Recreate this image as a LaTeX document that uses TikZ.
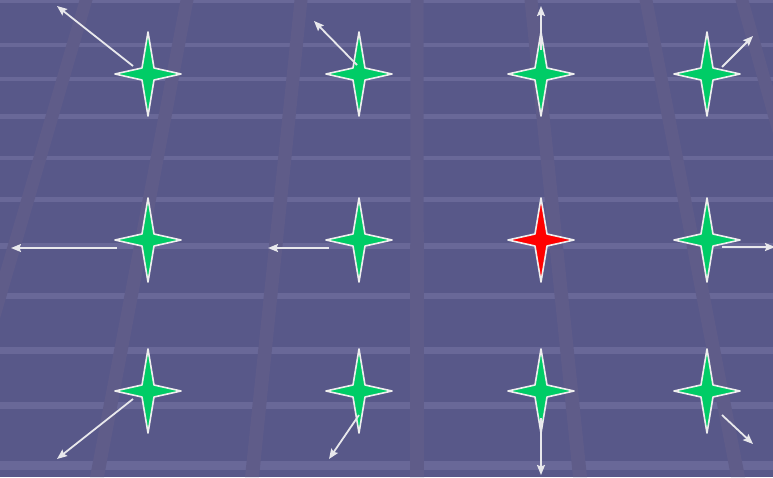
\documentclass[tikz,border=0pt]{standalone}
\usetikzlibrary{arrows.meta}
\definecolor{bgcol}{RGB}{88,88,137}
\definecolor{hlcol}{RGB}{105,104,152}
\definecolor{stcol}{RGB}{95,92,137}
\definecolor{stargreen}{RGB}{0,204,102}
\definecolor{starred}{RGB}{255,0,0}
\definecolor{edgecol}{RGB}{238,238,238}
\definecolor{arrcol}{RGB}{232,232,236}
\tikzset{
  sparkle/.pic={\filldraw[line width=1.6pt, draw=edgecol, fill=#1, line join=round]
     (0,42) -- (6,6) -- (33,0) -- (6,-6) -- (0,-42) -- (-6,-6) -- (-33,0) -- (-6,6) -- cycle;},
  arr/.style={draw=arrcol, line width=1.8pt, -{Stealth[length=10pt,width=8pt,inset=1.5pt]}},
}
\begin{document}
\begin{tikzpicture}[x=1pt,y=-1pt]
\useasboundingbox (0,0) rectangle (773,477);
\fill[bgcol] (0,0) rectangle (773,477);
\begin{scope}
\clip (0,0) rectangle (773,477);
% horizontal floor lines
\foreach \yy/\ww in {1/3, 44.5/4, 79/4, 116.5/4.5, 158/4.5, 199/5, 245.5/6, 295.5/6, 350.5/7, 405.5/7, 465/9}
  \draw[hlcol, line width=\ww pt] (0,\yy) -- (773,\yy);
% slanted stripes (top x / bottom x)
\foreach \aa/\bb in {86/-53, 187/97, 301/252, 417/417, 531/580, 646/738, 742/876}
  \fill[stcol] (\aa-6.5,0) -- (\aa+6.5,0) -- (\bb+7,477) -- (\bb-7,477) -- cycle;
\end{scope}
% stars
\coordinate (s11) at (148,74);
\coordinate (s12) at (359,74);
\coordinate (s13) at (541,74);
\coordinate (s14) at (707,74);
\coordinate (s21) at (148,240);
\coordinate (s22) at (359,240);
\coordinate (s23) at (541,240);
\coordinate (s24) at (707,240);
\coordinate (s31) at (148,391);
\coordinate (s32) at (359,391);
\coordinate (s33) at (541,391);
\coordinate (s34) at (707,391);
\foreach \n in {s11,s12,s13,s14,s21,s22,s24,s31,s32,s33,s34}
  \pic at (\n) {sparkle=stargreen};
\pic at (s23) {sparkle=starred};
% arrow end points
\coordinate (a1s) at (133,66);  \coordinate (a1e) at (57,6);
\coordinate (a2s) at (357,65);  \coordinate (a2e) at (314,21);
\coordinate (a3s) at (541,50);  \coordinate (a3e) at (541,6);
\coordinate (a4s) at (722,67);  \coordinate (a4e) at (753,36);
\coordinate (a5s) at (117,248); \coordinate (a5e) at (11,248);
\coordinate (a6s) at (329,248); \coordinate (a6e) at (268,248);
\coordinate (a7s) at (722,247); \coordinate (a7e) at (775,247);
\coordinate (a8s) at (133,399); \coordinate (a8e) at (57,459);
\coordinate (a9s) at (359,415); \coordinate (a9e) at (329,459);
\coordinate (a10s) at (541,418); \coordinate (a10e) at (541,475);
\coordinate (a11s) at (722,415); \coordinate (a11e) at (753,444);
\foreach \k in {1,...,11}
  \draw[arr] (a\k s) -- (a\k e);
\end{tikzpicture}
\end{document}
